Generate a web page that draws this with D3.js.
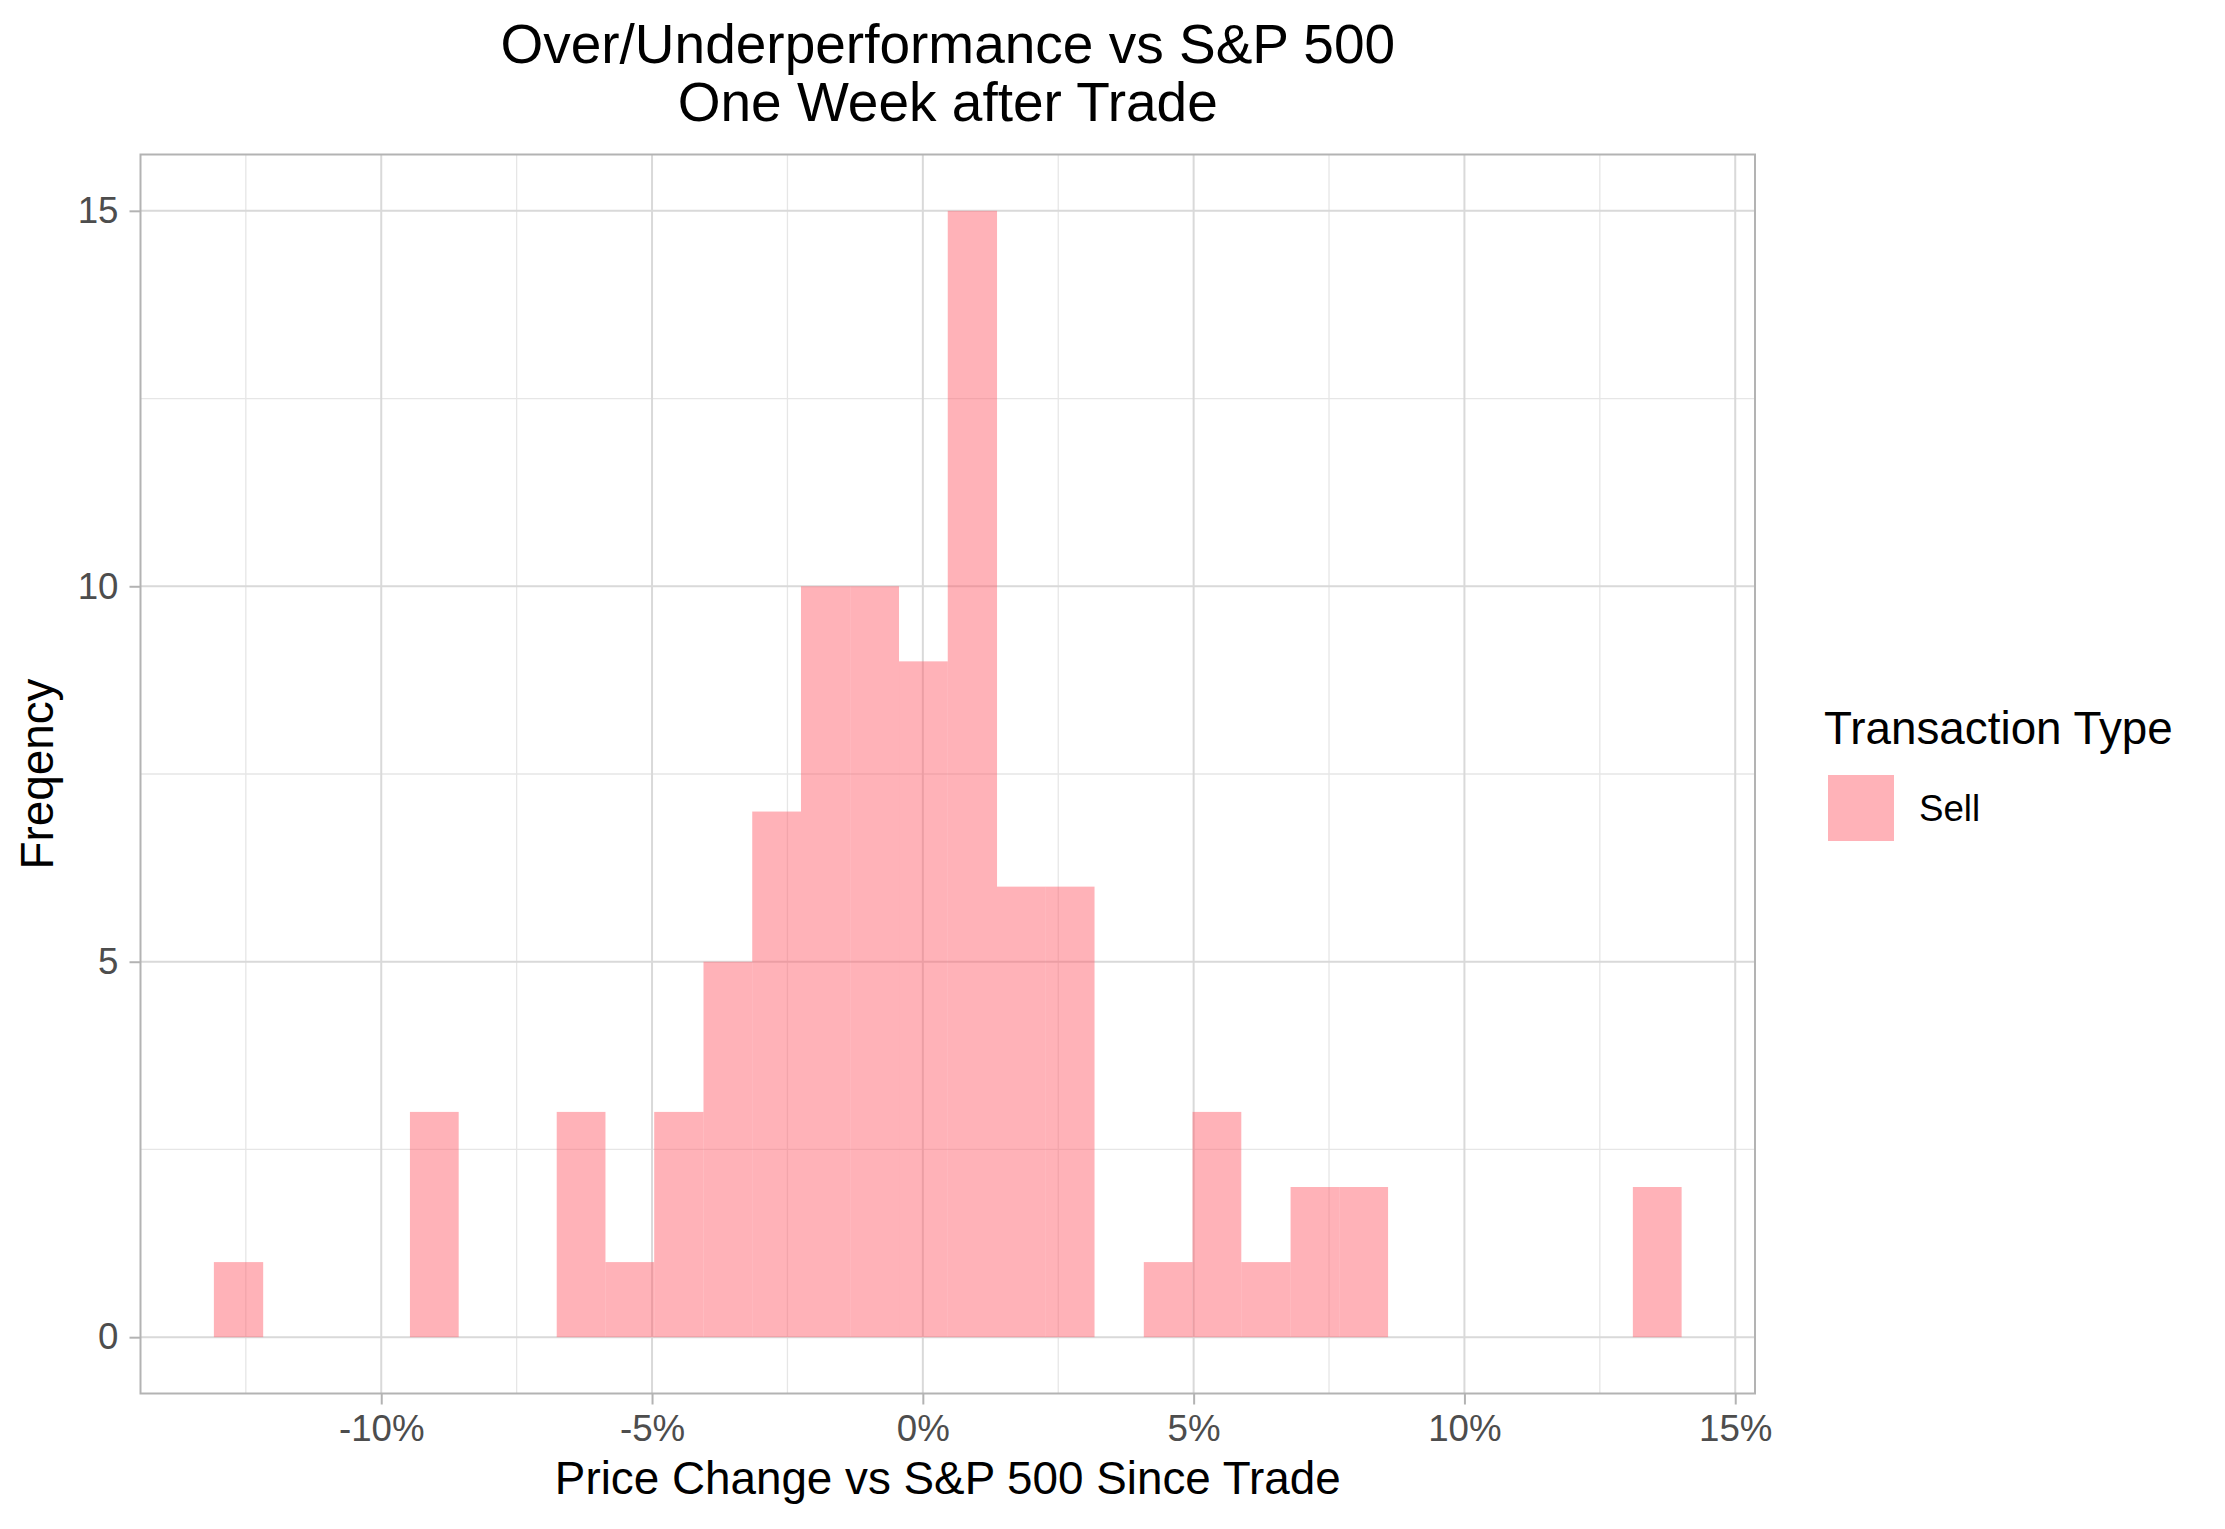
<!DOCTYPE html>
<html>
<head>
<meta charset="utf-8">
<script src="https://cdn.jsdelivr.net/npm/d3@7"></script>
<style>
  body { margin: 0; background: #fff; }
  svg { display: block; font-family: "Liberation Sans", Arial, Helvetica, sans-serif; }
</style>
</head>
<body>
<svg id="chart"></svg>
<script>
// histogram bins (percent change vs S&P 500)
const binEdges = [-13.09, -12.18, -11.28, -10.38, -9.47, -8.57, -7.67, -6.76, -5.86, -4.96,
  -4.05, -3.15, -2.25, -1.34, -0.44, 0.46, 1.37, 2.27, 3.17, 4.08,
  4.98, 5.88, 6.79, 7.69, 8.59, 9.50, 10.40, 11.30, 12.21, 13.11, 14.01];
const counts = [1, 0, 0, 0, 3, 0, 0, 3, 1, 3,
  5, 7, 10, 10, 9, 15, 6, 6, 0, 1,
  3, 1, 2, 2, 0, 0, 0, 0, 0, 2];
const xTicks = [-10, -5, 0, 5, 10, 15];
const xMinor = [-12.5, -7.5, -2.5, 2.5, 7.5, 12.5];
const yTicks = [0, 5, 10, 15];
const yMinor = [2.5, 7.5, 12.5];
const seriesName = 'Sell';

const bins = counts.map((c, i) => ({ x0: binEdges[i], x1: binEdges[i + 1], count: c }));

const W = 2225, H = 1529;
const panel = { left: 140.5, right: 1755, top: 154.5, bottom: 1393.5 };
const fillColor = '#fe5f6a';
const fillOpacity = 0.48;

const svg = d3.select('#chart').attr('width', W).attr('height', H);

// ggplot style 5% expansion
const xLo = binEdges[0], xHi = binEdges[binEdges.length - 1];
const xPad = (xHi - xLo) * 0.05;
const yMax = d3.max(counts);
const yPad = yMax * 0.05;

const x = d3.scaleLinear()
  .domain([xLo - xPad, xHi + xPad])
  .range([panel.left, panel.right]);

const y = d3.scaleLinear()
  .domain([-yPad, yMax + yPad])
  .range([panel.bottom, panel.top]);

const grid = svg.append('g').attr('class', 'grid');

// minor grid
grid.append('g').selectAll('line')
  .data(xMinor)
  .join('line')
  .attr('x1', d => x(d)).attr('x2', d => x(d))
  .attr('y1', panel.top).attr('y2', panel.bottom)
  .attr('stroke', '#e6e6e6').attr('stroke-width', 1.3);

grid.append('g').selectAll('line')
  .data(yMinor)
  .join('line')
  .attr('x1', panel.left).attr('x2', panel.right)
  .attr('y1', d => y(d)).attr('y2', d => y(d))
  .attr('stroke', '#e6e6e6').attr('stroke-width', 1.3);

// major grid
grid.append('g').selectAll('line')
  .data(xTicks)
  .join('line')
  .attr('x1', d => x(d)).attr('x2', d => x(d))
  .attr('y1', panel.top).attr('y2', panel.bottom)
  .attr('stroke', '#d9d9d9').attr('stroke-width', 2);

grid.append('g').selectAll('line')
  .data(yTicks)
  .join('line')
  .attr('x1', panel.left).attr('x2', panel.right)
  .attr('y1', d => y(d)).attr('y2', d => y(d))
  .attr('stroke', '#d9d9d9').attr('stroke-width', 2);

// bars
svg.append('g').selectAll('rect')
  .data(bins.filter(d => d.count > 0))
  .join('rect')
  .attr('x', d => x(d.x0))
  .attr('width', d => x(d.x1) - x(d.x0))
  .attr('y', d => y(d.count))
  .attr('height', d => y(0) - y(d.count))
  .attr('fill', fillColor)
  .attr('fill-opacity', fillOpacity);

// panel border
svg.append('rect')
  .attr('x', panel.left).attr('y', panel.top)
  .attr('width', panel.right - panel.left)
  .attr('height', panel.bottom - panel.top)
  .attr('fill', 'none')
  .attr('stroke', '#b3b3b3')
  .attr('stroke-width', 2);

// axes
const xAxis = d3.axisBottom(x)
  .tickValues(xTicks)
  .tickSize(11)
  .tickPadding(10.5)
  .tickFormat(d => d + '%');

const yAxis = d3.axisLeft(y)
  .tickValues(yTicks)
  .tickSize(11)
  .tickPadding(11)
  .tickFormat(d => d);

const xAxisG = svg.append('g')
  .attr('transform', `translate(0,${panel.bottom})`)
  .call(xAxis);

const yAxisG = svg.append('g')
  .attr('transform', `translate(${panel.left},0)`)
  .call(yAxis);

[xAxisG, yAxisG].forEach(g => {
  g.select('.domain').remove();
  g.selectAll('.tick line').attr('stroke', '#b3b3b3').attr('stroke-width', 2);
  g.selectAll('.tick text')
    .attr('fill', '#4d4d4d')
    .style('font-size', '36.7px')
    .style('font-family', '"Liberation Sans", Arial, Helvetica, sans-serif');
});

// title
const cx = (panel.left + panel.right) / 2;
svg.append('text')
  .attr('x', cx).attr('y', 62.5)
  .attr('text-anchor', 'middle')
  .style('font-size', '55px')
  .text('Over/Underperformance vs S&P 500');
svg.append('text')
  .attr('x', cx).attr('y', 121)
  .attr('text-anchor', 'middle')
  .style('font-size', '55px')
  .text('One Week after Trade');

// axis titles
svg.append('text')
  .attr('x', cx).attr('y', 1494)
  .attr('text-anchor', 'middle')
  .style('font-size', '45.8px')
  .text('Price Change vs S&P 500 Since Trade');

svg.append('text')
  .attr('transform', `translate(53,${(panel.top + panel.bottom) / 2}) rotate(-90)`)
  .attr('text-anchor', 'middle')
  .style('font-size', '45.8px')
  .text('Freqency');

// legend
const legend = svg.append('g');
legend.append('text')
  .attr('x', 1824).attr('y', 744)
  .style('font-size', '45.8px')
  .text('Transaction Type');
legend.append('rect')
  .attr('x', 1828).attr('y', 775)
  .attr('width', 66).attr('height', 66)
  .attr('fill', fillColor)
  .attr('fill-opacity', fillOpacity);
legend.append('text')
  .attr('x', 1919).attr('y', 821)
  .style('font-size', '36.7px')
  .text(seriesName);
</script>
</body>
</html>
